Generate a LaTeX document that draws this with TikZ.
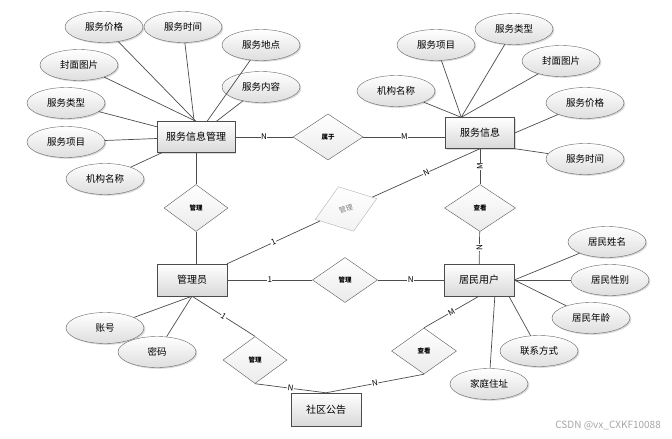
\documentclass[tikz,border=0pt]{standalone}
\usepackage{fontspec}
\setmainfont{Noto Sans CJK SC}
\usetikzlibrary{shapes.geometric,shadows,calc}
\begin{document}
\begin{tikzpicture}[x=1pt,y=-1pt,
 shad/.style={drop shadow={shadow xshift=1.3pt,shadow yshift=-1.3pt,opacity=0.3}},
 attr/.style={ellipse, draw=black!60, top color=white, bottom color=black!13, minimum width=78pt, minimum height=31pt, inner sep=0pt, font=\fontsize{9.5}{10}\selectfont, shad},
 ent/.style={rectangle, draw=black!70, top color=white, bottom color=black!15, minimum height=32pt, inner sep=0pt, font=\fontsize{10}{11}\selectfont, shad},
 rel/.style={diamond, draw=black!65, top color=white, bottom color=black!8, minimum width=65pt, minimum height=47pt, inner sep=0pt, font=\fontsize{6.5}{7}\bfseries\selectfont},
 conn/.style={draw=black!70, line width=0.7pt},
 card/.style={font=\fontsize{8}{9}\selectfont, fill=white, inner sep=0.5pt},
]
\useasboundingbox (0,0) rectangle (672,439);

% entities
\node[ent, minimum width=78pt, minimum height=31pt] (smm) at (196,137) {服务信息管理};
\node[ent, minimum width=69pt, minimum height=31pt] (sv) at (480,133) {服务信息};
\node[ent, minimum width=70pt] (admin) at (192,280) {管理员};
\node[ent, minimum width=70pt] (ju) at (479,280) {居民用户};
\node[ent, minimum width=70pt, minimum height=33pt] (notice) at (326,409.5) {社区公告};

% relations
\node[rel, minimum width=70pt, minimum height=46pt] (shuyu) at (328,137) {属于};
\node[rel, minimum width=64pt] (gl1) at (196,208) {管理};
\node[rel, minimum width=71pt] (ck1) at (480,208) {查看};
\node[rel, minimum height=45pt] (gl2) at (345,280) {管理};
\node[rel, minimum width=64pt] (gl3) at (255,360) {管理};
\node[rel, minimum height=46pt] (ck2) at (424,351) {查看};
\node[rel, draw=black!30, text=black!50, bottom color=black!5, rotate=18.7, font=\fontsize{7}{8}\selectfont] (glg) at (346,209) {管理};

% attributes of 服务信息管理
\node[attr] (a1) at (104,27) {服务价格};
\node[attr] (a2) at (183,27) {服务时间};
\node[attr] (a3) at (261,45) {服务地点};
\node[attr] (a4) at (261,87) {服务内容};
\node[attr] (a5) at (79,65) {封面图片};
\node[attr] (a6) at (66,103) {服务类型};
\node[attr] (a7) at (66,142) {服务项目};
\node[attr] (a8) at (105,179) {机构名称};

% attributes of 服务信息
\node[attr] (b1) at (436,45) {服务项目};
\node[attr] (b2) at (514,29) {服务类型};
\node[attr] (b3) at (561,61) {封面图片};
\node[attr] (b4) at (396,91) {机构名称};
\node[attr] (b5) at (585,103) {服务价格};
\node[attr] (b6) at (585,159) {服务时间};

% attributes of 管理员
\node[attr] (c1) at (105,328) {账号};
\node[attr] (c2) at (157,352) {密码};

% attributes of 居民用户
\node[attr] (d1) at (607,242) {居民姓名};
\node[attr] (d2) at (610,280) {居民性别};
\node[attr] (d3) at (591,318) {居民年龄};
\node[attr] (d4) at (539,351) {联系方式};
\node[attr] (d5) at (489,384) {家庭住址};

\node[text=black!35, font=\fontsize{10}{11}\selectfont, anchor=east, inner sep=0pt] (wm) at (661,426) {CSDN @vx\_CXKF10088};

% attribute connectors
\begin{scope}[conn]
\draw (a1) -- (smm.north);
\draw (a2) -- (smm);
\draw (a3) -- (smm);
\draw (a4) -- (smm);
\draw (a5) -- (smm.north);
\draw (a6) -- (smm);
\draw (a7) -- (smm);
\draw (a8) -- (smm);
\coordinate (svp) at ($(sv.north west)!0.23!(sv.north east)$);
\draw (b1) -- (svp);
\draw (b2) -- (svp);
\draw (b3) -- (svp);
\draw (b4) -- (svp);
\draw (b5) -- (sv.east);
\draw (b6) -- (sv.south east);
\draw (c1) -- (admin.south);
\draw (c2) -- (admin.south);
\draw (d1) -- (ju.east);
\draw (d2) -- (ju.east);
\draw (d3) -- (ju.east);
\draw (d4) -- ($(ju.south)!0.85!(ju.south east)$);
\draw (d5) -- ($(ju.south)!0.45!(ju.south east)$);

% relationship connectors
\draw (smm) -- node[card]{N} (shuyu);
\draw (shuyu.east) -- node[card]{M} (shuyu.east -| sv.west);
\draw (smm) -- (gl1);
\draw (gl1) -- (gl1.south |- admin.north);
\draw (admin) -- node[card, sloped]{1} (glg);
\draw (glg) -- node[card, sloped]{N} (sv.south);
\draw (sv) -- node[card, rotate=90]{M} (ck1);
\draw (ck1) -- node[card, rotate=90]{N} (ju);
\draw (admin) -- node[card]{1} (gl2);
\draw (gl2) -- node[card]{N} (ju);
\draw (admin.south) -- node[card, sloped]{1} (gl3.north);
\draw (gl3.south) -- node[card, sloped]{N} (notice.north);
\draw (notice.north) -- node[card, sloped]{N} (ck2.south);
\draw (ck2.north) -- node[card, sloped]{M} (ju.south);
\end{scope}
\end{tikzpicture}
\end{document}
